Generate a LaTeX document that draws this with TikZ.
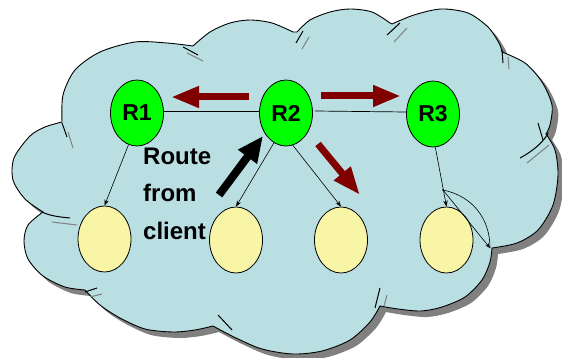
\documentclass[tikz,border=0pt]{standalone}
\usepackage{fontspec}
\newfontfamily\labfont{Liberation Sans}
\usetikzlibrary{arrows.meta,shapes.geometric}
\definecolor{cloudfill}{HTML}{B9DFE3}
\definecolor{routerfill}{HTML}{00FF00}
\definecolor{hostfill}{HTML}{F9F5A7}
\definecolor{darkred}{HTML}{800000}
\definecolor{shadowgray}{HTML}{808080}
\begin{document}
\begin{tikzpicture}[x=1pt,y=-1pt,
  routernode/.style={ellipse,draw=black,line width=0.8pt,fill=routerfill,minimum width=53pt,minimum height=66pt,inner sep=0pt,font=\labfont\bfseries\fontsize{23}{23}\selectfont},
  hostnode/.style={ellipse,draw=black,line width=0.8pt,fill=hostfill,minimum width=53pt,minimum height=66pt,inner sep=0pt},
  labeltext/.style={inner sep=0pt,anchor=base west,font=\labfont\bfseries\fontsize{24}{24}\selectfont},
  link/.style={line width=0.7pt},
  thinarrow/.style={line width=0.6pt,-{Stealth[length=6pt,width=4.5pt]}},
  bigred/.style={draw=darkred,line width=7pt,-{Triangle[length=28pt,width=20pt]}},
  bigblack/.style={draw=black,line width=8pt,-{Triangle[length=26pt,width=22pt]}},
  innermark/.style={draw=black,line width=1pt},
  innershadow/.style={draw=shadowgray,line width=1pt},
]
\useasboundingbox (0,0) rectangle (562,358);
\def\cloudpath{
  (62,122)
  -- plot[smooth] coordinates {(62,122) (63,95) (75,70) (100,52) (135,42) (167,43) (193,46)}
  -- plot[smooth] coordinates {(193,46) (210,32) (230,23) (250,20) (272,23) (293,32)}
  -- plot[smooth] coordinates {(297,32) (310,20) (330,12) (350,9) (372,12) (390,23)}
  -- plot[smooth] coordinates {(392,24) (414,15) (441,9) (468,13) (488,27) (499,43) (502,52)}
  -- plot[smooth] coordinates {(502,52) (525,63) (542,82) (552,105) (550,125) (546,134)}
  -- plot[smooth] coordinates {(546,134) (555,150) (558,175) (553,205) (538,230) (517,243) (492,248)}
  -- plot[smooth] coordinates {(492,248) (490,262) (482,280) (465,297) (442,307) (421,311) (398,309) (380,306)}
  -- plot[smooth] coordinates {(380,306) (370,322) (350,340) (322,351) (293,354) (262,349) (236,338) (213,326)}
  -- plot[smooth] coordinates {(213,326) (195,330) (173,332) (145,329) (120,318) (100,305) (85,290)}
  -- plot[smooth] coordinates {(85,290) (65,287) (43,276) (28,259) (24,241) (28,225) (43,212)}
  -- plot[smooth] coordinates {(43,212) (25,199) (13,180) (14,158) (30,136) (45,127) (62,122)}
  -- cycle}
% shadow of the cloud
\fill[shadowgray,shift={(6,6)}] \cloudpath;
% the cloud
\filldraw[fill=cloudfill,draw=black,line width=0.9pt] \cloudpath;
% inner arcs of the cloud and their shadows
\draw[innershadow] (187,53) -- (203,61);
\draw[innermark] (183,47) -- (198,55);
\draw[innershadow] (302,49) -- (309,37);
\draw[innermark] (296,43) -- (303,31);
\draw[innershadow] (394,42) -- (407,28);
\draw[innermark] (387,35) -- (400,23);
\draw[innershadow] (508,57) -- (509,69);
\draw[innermark] (502,50) -- (503,63);
\draw[innershadow] (527,163) -- (549,145);
\draw[innermark] (520,158) .. controls (535,150) and (545,140) .. (548,133);
\draw[innermark] (538,123) -- (543,140);
\draw[innershadow] (68,132) -- (73,148);
\draw[innermark] (62,123) -- (67,137);
\draw[innershadow] (52,222) -- (77,225);
\draw[innermark] (42,212) .. controls (50,216) and (60,217) .. (70,218);
\draw[innershadow] (90,297) -- (102,294);
\draw[innermark] (85,292) -- (97,288);
\draw[innermark] (218,315) -- (232,330);
\draw[innershadow] (387,295) -- (384,306);
\draw[innermark] (380,288) -- (375,308);
% nodes
\node[routernode] (R1) at (137,113) {R1};
\node[routernode] (R2) at (286,113) {R2};
\node[routernode] (R3) at (433,114) {R3};
\node[hostnode] (H1) at (104.5,239) {};
\node[hostnode] (H2) at (236,240) {};
\node[hostnode] (H3) at (341,240) {};
\node[hostnode] (H4) at (446.5,240) {};
% links between routers
\draw[link] ([yshift=2pt]R1.east) -- ([yshift=2pt]R2.west);
\draw[link] ([yshift=2pt,xshift=2pt]R2.east) -- ([yshift=2pt]R3.west);
% thin arrows to hosts
\draw[thinarrow] (R1.255) -- (H1.north);
\draw[thinarrow] (R2.248) -- (H2.north);
\draw[thinarrow] (R2.282) -- (H3.north);
\draw[thinarrow] (R3.274) -- (H4.north);
% stray connector near R3's host
\coordinate (s1) at (443,190);
\coordinate (s2) at (490,248);
\fill (s1) circle (1pt);
\draw[line width=0.6pt,-{Stealth[length=5pt,width=4pt]}] (s1) -- (s2);
\draw[line width=0.6pt] (s1) .. controls (472,196) and (490,218) .. (s2);
% big arrows
\coordinate (lt) at (249,97);
\coordinate (lh) at (171,97);
\coordinate (rt) at (321,96);
\coordinate (rh) at (401,96);
\coordinate (dt) at (318,144);
\coordinate (dh) at (360,195);
\coordinate (bt) at (219,195);
\coordinate (bh) at (263,136);
\draw[bigred] (lt) -- (lh);
\draw[bigred] (rt) -- (rh);
\draw[bigred] (dt) -- (dh);
\draw[bigblack] (bt) -- (bh);
% label
\node[labeltext] (t1) at (143,165) {Route};
\node[labeltext] (t2) at (143,202) {from};
\node[labeltext] (t3) at (143,239) {client};
\end{tikzpicture}
\end{document}
